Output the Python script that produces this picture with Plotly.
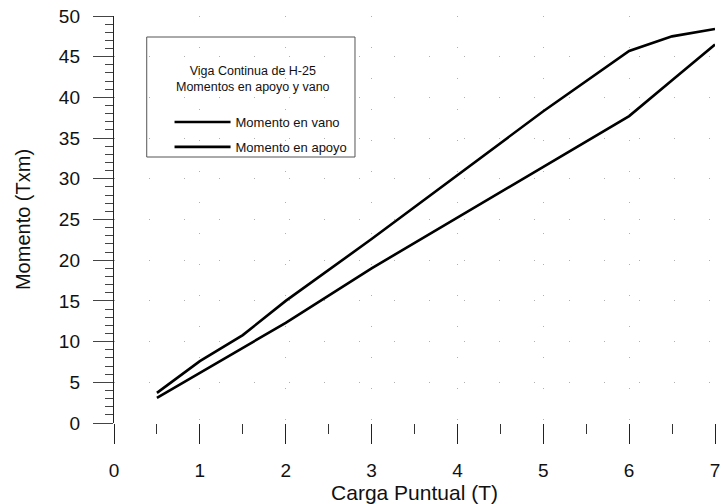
import plotly.graph_objects as go

# Carga puntual (T)
carga = [0.5, 1, 1.5, 2, 3, 4, 5, 6, 6.5, 7]
# Momentos (Txm)
momento_vano = [3.1, 6.2, 9.3, 12.3, 19.0, 25.2, 31.4, 37.7, 42.1, 46.5]
momento_apoyo = [3.7, 7.6, 10.8, 15.0, 22.6, 30.4, 38.3, 45.7, 47.5, 48.4]

x_ticks = [0, 1, 2, 3, 4, 5, 6, 7]
y_ticks = [0, 5, 10, 15, 20, 25, 30, 35, 40, 45, 50]

leyenda_titulo = "Viga Continua de H-25<br>Momentos en apoyo y vano"

W, H = 724, 504
ML, MR, MT, MB = 114, 4, 16, 81

fig = go.Figure()
fig.add_trace(go.Scatter(x=carga, y=momento_vano, mode="lines", name="Momento en vano",
                         legendgroup="vano",
                         line=dict(color="black", width=2.6)))
fig.add_trace(go.Scatter(x=carga, y=momento_apoyo, mode="lines", name="Momento en apoyo",
                         legendgroup="apoyo",
                         line=dict(color="black", width=2.6)))

pw = W - ML - MR
ph = H - MT - MB

def px_x(p):
    return (p - ML) / pw

def px_y(p):
    return (H - MB - p) / ph

sans = "Liberation Sans, Arial, sans-serif"

# legend frame and heading
fig.add_shape(type="rect", xref="paper", yref="paper",
              x0=px_x(147), x1=px_x(357), y0=px_y(157), y1=px_y(37),
              line=dict(color="#555", width=1), fillcolor="rgba(0,0,0,0)")
fig.add_annotation(xref="paper", yref="paper", x=px_x(254), y=px_y(79),
                   xanchor="center", yanchor="middle", align="center",
                   text=leyenda_titulo, showarrow=False,
                   font=dict(family=sans, size=12.5, color="#111"))

fig.update_layout(
    width=W, height=H,
    margin=dict(l=ML, r=MR, t=MT, b=MB, pad=0),
    paper_bgcolor="white", plot_bgcolor="white",
    font=dict(family=sans, color="#111"),
    showlegend=True,
    legend=dict(
        x=px_x(170), y=px_y(107), xanchor="left", yanchor="top",
        bgcolor="rgba(0,0,0,0)", borderwidth=0,
        font=dict(family=sans, size=13, color="#111"),
        tracegroupgap=5,
        itemwidth=56,
    ),
    xaxis=dict(
        range=[0, 7], tickvals=x_ticks, ticktext=[str(v) for v in x_ticks],
        showline=False, zeroline=False,
        ticks="outside", ticklen=20, tickwidth=1.2, tickcolor="#222",
        ticklabelstandoff=10, ticklabeloverflow="allow",
        minor=dict(dtick=0.5, tick0=0, ticks="outside", ticklen=10, tickwidth=1, tickcolor="#333",
                   showgrid=False),
        showgrid=True, gridcolor="#b0b0b0", gridwidth=1, griddash="1px,30px",
        tickfont=dict(size=19),
        title=dict(text="Carga Puntual (T)", font=dict(size=21), standoff=3),
    ),
    yaxis=dict(
        range=[0, 50], tickvals=y_ticks, ticktext=[str(v) for v in y_ticks],
        showline=True, linecolor="#222", linewidth=1.4, zeroline=False,
        ticks="outside", ticklen=20, tickwidth=1, tickcolor="#444",
        ticklabelstandoff=9,
        minor=dict(dtick=1, tick0=0, ticks="outside", ticklen=8, tickwidth=1, tickcolor="#444",
                   showgrid=False),
        showgrid=True, gridcolor="#b0b0b0", gridwidth=1, griddash="1px,34px",
        tickfont=dict(size=19),
        title=dict(text="Momento (Txm)", font=dict(size=20), standoff=22),
    ),
)

fig.write_html("out.html")
